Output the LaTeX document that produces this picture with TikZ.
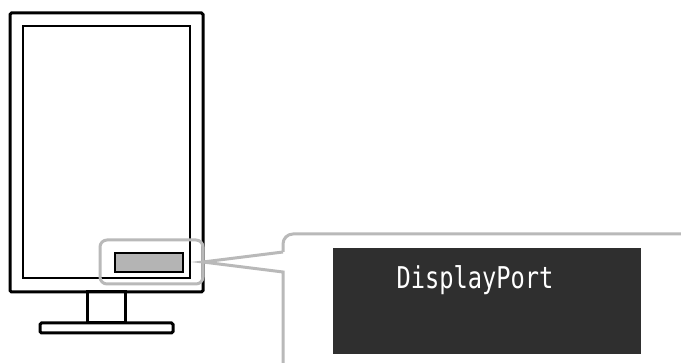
\documentclass[tikz,border=0pt]{standalone}
\usepackage{fontspec}
\usepackage{xcolor}
\usepackage{tikz}
\usetikzlibrary{positioning}
\newfontfamily\osdfont{DejaVu Sans Mono}
\definecolor{hlgray}{RGB}{185,185,185}
\definecolor{btngray}{RGB}{180,180,180}
\definecolor{osddark}{RGB}{47,47,47}
\tikzstyle{bezel}   = [rectangle, draw=black, line width=3pt, rounded corners=1.5pt,
                        minimum width=193pt, minimum height=279pt]
\tikzstyle{screen}  = [rectangle, draw=black, line width=1.5pt,
                        minimum width=167pt, minimum height=252pt]
\tikzstyle{button}  = [rectangle, draw=black, fill=btngray, line width=1.5pt,
                        minimum width=68pt, minimum height=19pt]
\tikzstyle{focus}   = [rectangle, draw=hlgray, line width=3pt, rounded corners=7pt,
                        minimum width=103pt, minimum height=44pt]
\tikzstyle{standpart} = [rectangle, draw=black, line width=3pt, rounded corners=1.5pt]
\tikzstyle{osd}     = [rectangle, fill=osddark, minimum width=308pt, minimum height=106pt]
\tikzstyle{callout} = [draw=hlgray, line width=3pt]
\begin{document}
\begin{tikzpicture}[x=1pt, y=-1pt,
    every node/.style={inner sep=0pt, outer sep=0pt}]

  \useasboundingbox (0,0) rectangle (681,363);

  % monitor
  \node[bezel] (frame) at (106.5,152.5) {};
  \node[screen] (scr) at (106.5,152) {};
  \node[standpart, minimum width=38pt, minimum height=31pt,
        rounded corners=0pt, below=0pt of frame] (neck) {};
  \node[standpart, minimum width=133pt, minimum height=10pt,
        below=0pt of neck] (foot) {};
  \node[button] (btn) at (149,262.5) {};
  \node[focus] (hl) at (151.5,262) {};

  % callout with screen message
  \coordinate (tipA) at (283,252);
  \coordinate (tipB) at (283,272);
  \draw[callout, rounded corners=10pt] (684,234) -- (283,234) -- (tipA);
  \draw[callout] (tipA) -- (hl.east) -- (tipB) -- (283,366);
  \node[osd] (msg) at (487,301) {};
  \node[text=white, xscale=0.79, transform shape] (port) at (475,280)
    {\osdfont\fontsize{30}{30}\selectfont DisplayPort};

\end{tikzpicture}
\end{document}
